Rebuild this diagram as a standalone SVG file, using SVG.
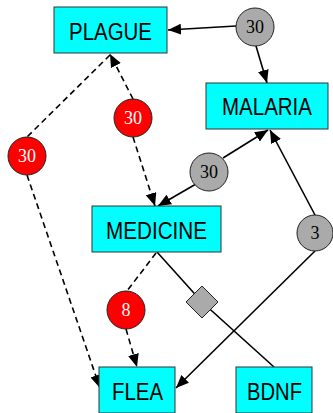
<svg xmlns="http://www.w3.org/2000/svg" width="333" height="413" viewBox="0 0 333 413">
<style>
.box{fill:#00ffff;stroke:#333;stroke-width:1}
.lbl{font-family:"Liberation Sans",Arial,sans-serif;font-size:23px;fill:#000;text-anchor:middle}
.num{font-family:"Liberation Serif","Times New Roman",serif;font-size:18px;text-anchor:middle}
.red{fill:#ff0000;stroke:#222;stroke-width:1}
.gray{fill:#aaaaaa;stroke:#222;stroke-width:1}
.e{stroke:#000;stroke-width:1.6;fill:none}
.d{stroke-dasharray:6,4}
</style>
<defs>
<marker id="ah" markerUnits="userSpaceOnUse" markerWidth="13" markerHeight="11" refX="13" refY="5.5" orient="auto">
<path d="M0,0 L13,5.5 L0,11 z" fill="#000"/>
</marker>
</defs>
<g id="connectors">
<line class="e" x1="236" y1="26" x2="168" y2="30" marker-end="url(#ah)"/>
<line class="e" x1="256" y1="46" x2="267" y2="83" marker-end="url(#ah)"/>
<line class="e d" x1="133" y1="99" x2="110" y2="54" marker-end="url(#ah)"/>
<line class="e d" x1="133" y1="137" x2="155" y2="206" marker-end="url(#ah)"/>
<line class="e d" x1="110" y1="55" x2="27" y2="137"/>
<line class="e d" x1="27" y1="175" x2="100" y2="388" marker-end="url(#ah)"/>
<line class="e" x1="196" y1="184" x2="158" y2="206" marker-end="url(#ah)"/>
<line class="e" x1="223" y1="158" x2="268" y2="130" marker-end="url(#ah)"/>
<line class="e" x1="315" y1="215" x2="270" y2="130" marker-end="url(#ah)"/>
<line class="e" x1="315" y1="251" x2="176" y2="388" marker-end="url(#ah)"/>
<polyline class="e" points="157,252 202,302 274,367"/>
<line class="e d" x1="156" y1="253" x2="127" y2="291"/>
<line class="e d" x1="126" y1="329" x2="137" y2="367" marker-end="url(#ah)"/>
</g>
<g id="PLAGUE">
<rect class="box" x="54" y="7" width="113" height="46"/>
<text class="lbl" x="110.5" y="40" textLength="83" lengthAdjust="spacingAndGlyphs">PLAGUE</text>
</g>
<g id="MALARIA">
<rect class="box" x="206" y="83" width="122" height="46"/>
<text class="lbl" x="267" y="115" textLength="90" lengthAdjust="spacingAndGlyphs">MALARIA</text>
</g>
<g id="MEDICINE">
<rect class="box" x="92" y="206" width="129" height="46"/>
<text class="lbl" x="156.5" y="239" textLength="101" lengthAdjust="spacingAndGlyphs">MEDICINE</text>
</g>
<g id="FLEA">
<rect class="box" x="99" y="367" width="76" height="46"/>
<text class="lbl" x="137.5" y="400" textLength="51" lengthAdjust="spacingAndGlyphs">FLEA</text>
</g>
<g id="BDNF">
<rect class="box" x="236" y="367" width="76" height="46"/>
<text class="lbl" x="274.5" y="400" textLength="55" lengthAdjust="spacingAndGlyphs">BDNF</text>
</g>
<g id="n30a">
<circle class="gray" cx="255" cy="27" r="19"/>
<text class="num" x="255" y="33">30</text>
</g>
<g id="n30b">
<circle class="red" cx="133" cy="118" r="19"/>
<text class="num" x="133" y="124" fill="#fff">30</text>
</g>
<g id="n30c">
<circle class="red" cx="27" cy="156" r="19"/>
<text class="num" x="27" y="162" fill="#fff">30</text>
</g>
<g id="n30d">
<circle class="gray" cx="209" cy="172" r="19"/>
<text class="num" x="209" y="178">30</text>
</g>
<g id="n3">
<circle class="gray" cx="315" cy="233" r="18"/>
<text class="num" x="315" y="239">3</text>
</g>
<g id="n8">
<circle class="red" cx="126" cy="310" r="19"/>
<text class="num" x="126" y="316" fill="#fff">8</text>
</g>
<g id="diamond">
<polygon class="gray" points="202,286 218,302 202,318 186,302"/>
</g>
</svg>
